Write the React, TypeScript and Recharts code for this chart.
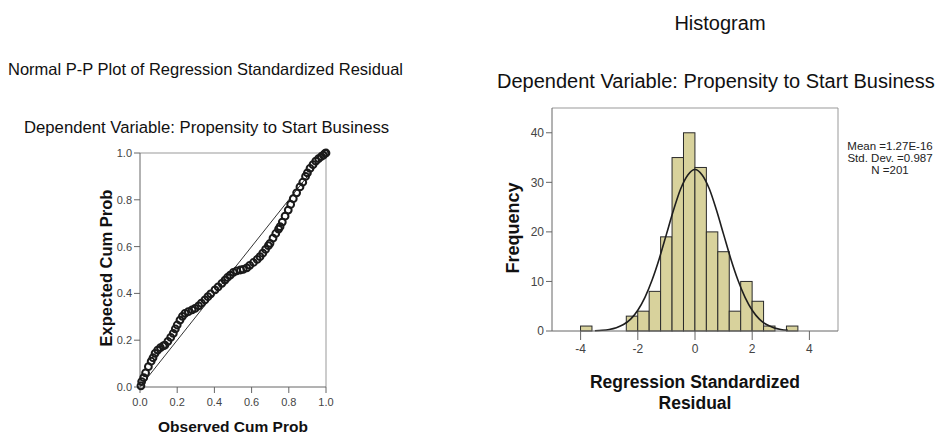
import { ScatterChart, Scatter, XAxis, YAxis, ReferenceLine, ComposedChart, Bar, Line } from 'recharts';

const ppObserved = [
  0.005, 0.009, 0.02, 0.03, 0.045, 0.06, 0.07, 0.081, 0.095, 0.11, 0.125, 0.134, 0.15, 0.165, 0.179, 0.19,
  0.2, 0.215, 0.228, 0.242, 0.26, 0.28, 0.296, 0.315, 0.33, 0.349, 0.365, 0.38, 0.403, 0.42, 0.44, 0.457,
  0.47, 0.485, 0.502, 0.52, 0.54, 0.555, 0.574, 0.59, 0.61, 0.63, 0.645, 0.66, 0.675, 0.69, 0.699, 0.715,
  0.73, 0.745, 0.753, 0.765, 0.78, 0.797, 0.81, 0.824, 0.842, 0.86, 0.875, 0.89, 0.9, 0.914, 0.93, 0.945,
  0.96, 0.975, 0.986, 0.995, 1.0,
];
const ppExpected = [
  0.005, 0.023, 0.04, 0.06, 0.087, 0.11, 0.125, 0.144, 0.158, 0.168, 0.176, 0.179, 0.195, 0.212, 0.229, 0.248,
  0.265, 0.286, 0.302, 0.315, 0.322, 0.33, 0.336, 0.347, 0.358, 0.372, 0.386, 0.398, 0.415, 0.428, 0.443, 0.457,
  0.468, 0.478, 0.49, 0.496, 0.5, 0.503, 0.509, 0.52, 0.532, 0.545, 0.557, 0.572, 0.588, 0.604, 0.614, 0.636,
  0.656, 0.675, 0.685, 0.705, 0.73, 0.756, 0.78, 0.805, 0.83, 0.855, 0.875, 0.9, 0.915, 0.934, 0.95, 0.965,
  0.976, 0.985, 0.991, 0.998, 1.0,
];
const ppTicks = [0, 0.2, 0.4, 0.6, 0.8, 1.0];

// Histogram bins (width 0.4) and the fitted normal curve
const binWidth = 0.4;
const binCenters = [-3.8, -2.2, -1.8, -1.4, -1.0, -0.6, -0.2, 0.2, 0.6, 1.0, 1.4, 1.8, 2.2, 2.6, 3.4];
const binCounts = [1, 3, 4, 8, 19, 35, 40, 33, 20, 16, 4, 10, 6, 1, 1];
const curveX = [-3.5, -3.25, -3, -2.75, -2.5, -2.25, -2, -1.75, -1.5, -1.25, -1, -0.75, -0.5, -0.25, 0,
  0.25, 0.5, 0.75, 1, 1.25, 1.5, 1.75, 2, 2.25, 2.5, 2.75, 3, 3.25];
const curveY = [0.06, 0.14, 0.32, 0.67, 1.3, 2.4, 4.2, 6.8, 10.3, 14.6, 19.5, 24.4, 28.7, 31.5, 32.6,
  31.5, 28.7, 24.4, 19.5, 14.6, 10.3, 6.8, 4.2, 2.4, 1.3, 0.67, 0.32, 0.14];
const histXDomain = [-5, 5];
const histXTicks = [-4, -2, 0, 2, 4];
const histYTicks = [0, 10, 20, 30, 40];
const legendLines = ['Mean =1.27E-16', 'Std. Dev. =0.987', 'N =201'];

const FONT = "'Liberation Sans', Arial, sans-serif";

const ppData = ppObserved.map((x, i) => ({ x, y: ppExpected[i] }));

const histData = (() => {
  const rows = new Map<number, { x: number; freq?: number; curve?: number }>();
  binCenters.forEach((x, i) => rows.set(x, { ...rows.get(x), x, freq: binCounts[i] }));
  curveX.forEach((x, i) => rows.set(x, { ...rows.get(x), x, curve: curveY[i] }));
  return [...rows.values()].sort((a, b) => a.x - b.x);
})();

const HIST_W = 451;
const HIST_MARGIN = { top: 108, right: 103, bottom: 75, left: 32 };
const HIST_YAXIS_W = 30;
const histPlotW = HIST_W - HIST_MARGIN.left - HIST_MARGIN.right - HIST_YAXIS_W;
// pixel width of one bin on the x scale
const binPx = (histPlotW / (histXDomain[1] - histXDomain[0])) * binWidth;

const tickStyle = { fontSize: 11, fill: '#444', fontFamily: FONT };

function OpenDot(props: any) {
  const { cx, cy } = props;
  return <circle cx={cx} cy={cy} r={3.4} fill="none" stroke="#1a1a1a" strokeWidth={2} />;
}

function BinRect(props: any) {
  const { x, y, width, height } = props;
  if (!height || height <= 0) return null;
  const mid = x + width / 2;
  return <rect x={mid - binPx / 2} y={y} width={binPx} height={height} fill="#d8d29c" stroke="#2a2a2a" strokeWidth={1} />;
}

function PPPlot() {
  return (
    <ScatterChart width={340} height={436} margin={{ top: 153, right: 14, bottom: 19, left: 110 }}>
      <XAxis
        type="number"
        dataKey="x"
        domain={[0, 1]}
        ticks={ppTicks}
        tickFormatter={(v: number) => v.toFixed(1)}
        height={30}
        stroke="#666"
        tickSize={6}
        tickMargin={5}
        tick={tickStyle}
      />
      <YAxis
        type="number"
        dataKey="y"
        domain={[0, 1]}
        ticks={ppTicks}
        tickFormatter={(v: number) => v.toFixed(1)}
        width={30}
        stroke="#666"
        tickSize={6}
        tick={tickStyle}
      />
      <ReferenceLine y={1} stroke="#999" />
      <ReferenceLine x={1} stroke="#999" />
      <ReferenceLine segment={[{ x: 0, y: 0 }, { x: 1, y: 1 }]} stroke="#333" strokeWidth={1} />
      <Scatter data={ppData} shape={OpenDot} isAnimationActive={false} />
    </ScatterChart>
  );
}

function HistogramPlot() {
  return (
    <ComposedChart width={HIST_W} height={436} data={histData} margin={HIST_MARGIN}>
      <XAxis
        type="number"
        dataKey="x"
        domain={histXDomain}
        ticks={histXTicks}
        height={30}
        stroke="#666"
        tickSize={9}
        tickMargin={4}
        tick={{ ...tickStyle, fontSize: 12 }}
      />
      <YAxis
        type="number"
        domain={[0, 45]}
        ticks={histYTicks}
        width={HIST_YAXIS_W}
        stroke="#666"
        tickSize={6}
        tick={{ ...tickStyle, fontSize: 12 }}
      />
      <ReferenceLine y={45} stroke="#999" />
      <ReferenceLine x={5} stroke="#999" />
      <Bar dataKey="freq" shape={BinRect} isAnimationActive={false} />
      <Line
        type="monotone"
        dataKey="curve"
        stroke="#1e1e1e"
        strokeWidth={1.6}
        dot={false}
        connectNulls
        isAnimationActive={false}
      />
    </ComposedChart>
  );
}

const abs = (style: React.CSSProperties): React.CSSProperties => ({
  position: 'absolute',
  fontFamily: FONT,
  color: '#111',
  whiteSpace: 'nowrap',
  ...style,
});

export default function App() {
  return (
    <div style={{ position: 'absolute', left: 0, top: 0, width: 941, height: 436, background: '#fff', overflow: 'hidden' }}>
      <div style={abs({ left: 8, top: 60, fontSize: 16.5 })}>Normal P-P Plot of Regression Standardized Residual</div>
      <div style={abs({ left: 24, top: 118, fontSize: 16.7 })}>Dependent Variable: Propensity to Start Business</div>
      <div style={abs({ left: 0, top: 0 })}>
        <PPPlot />
      </div>
      <div style={abs({ left: 106, top: 268, fontSize: 16.5, fontWeight: 'bold', transform: 'translate(-50%, -50%) rotate(-90deg)' })}>
        Expected Cum Prob
      </div>
      <div style={abs({ left: 233, top: 418, fontSize: 15.5, fontWeight: 'bold', transform: 'translateX(-50%)' })}>
        Observed Cum Prob
      </div>

      <div style={abs({ left: 720, top: 12, fontSize: 20, transform: 'translateX(-50%)' })}>Histogram</div>
      <div style={abs({ left: 497, top: 70, fontSize: 20 })}>Dependent Variable: Propensity to Start Business</div>
      <div style={abs({ left: 490, top: 0 })}>
        <HistogramPlot />
      </div>
      <div style={abs({ left: 513, top: 228, fontSize: 18, fontWeight: 'bold', transform: 'translate(-50%, -50%) rotate(-90deg)' })}>
        Frequency
      </div>
      <div style={abs({ left: 695, top: 372, fontSize: 17.5, fontWeight: 'bold', textAlign: 'center', lineHeight: '21px', transform: 'translateX(-50%)' })}>
        Regression Standardized
        <br />
        Residual
      </div>
      <div style={abs({ left: 890, top: 140, fontSize: 11.5, lineHeight: '12px', textAlign: 'center', color: '#222', transform: 'translateX(-50%)' })}>
        {legendLines.map((t) => (
          <div key={t}>{t}</div>
        ))}
      </div>
    </div>
  );
}
